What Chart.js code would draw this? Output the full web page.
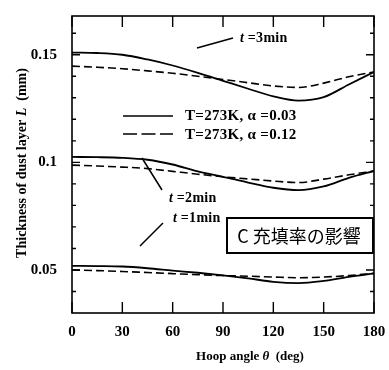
<!DOCTYPE html>
<html>
<head>
<meta charset="utf-8">
<script src="https://cdn.jsdelivr.net/npm/chart.js@4/dist/chart.umd.min.js"></script>
<style>
  html, body { margin: 0; padding: 0; background: #fff; }
  #wrap { width: 389px; height: 370px; position: relative; }
</style>
</head>
<body>
<div id="wrap"><canvas id="myChart" width="389" height="370"></canvas></div>
<script>
// hoop angle (deg) and dust layer thickness (mm)
const angles = [0, 15, 30, 45, 60, 75, 90, 105, 120, 135, 150, 165, 180];
const solid3 = [0.151, 0.1508, 0.150, 0.1478, 0.1450, 0.1416, 0.1379, 0.1342, 0.1307, 0.1287, 0.1303, 0.1362, 0.142];
const dashed3 = [0.1447, 0.1442, 0.1435, 0.1425, 0.1414, 0.1400, 0.1385, 0.1370, 0.1355, 0.1348, 0.1368, 0.1398, 0.142];
const solid2 = [0.1025, 0.1024, 0.1021, 0.1012, 0.0990, 0.0958, 0.0933, 0.0906, 0.0882, 0.0871, 0.0888, 0.0928, 0.096];
const dashed2 = [0.0987, 0.0983, 0.0978, 0.0971, 0.0958, 0.0945, 0.0933, 0.0923, 0.0913, 0.0906, 0.0922, 0.0942, 0.096];
const solid1 = [0.0519, 0.0518, 0.0516, 0.0508, 0.0497, 0.0487, 0.0475, 0.0461, 0.0445, 0.0439, 0.0449, 0.0468, 0.0484];
const dashed1 = [0.0500, 0.0497, 0.0493, 0.0488, 0.0483, 0.0478, 0.0474, 0.0471, 0.0467, 0.0464, 0.0467, 0.0474, 0.0484];

const xTicks = [0, 30, 60, 90, 120, 150, 180];
const yTicks = [0.05, 0.1, 0.15];
const yTickLabels = ['0.05', '0.1', '0.15'];
const yMinorTicks = [0.04, 0.06, 0.07, 0.08, 0.09, 0.11, 0.12, 0.13, 0.14, 0.16];

const serif = '"Liberation Serif", "DejaVu Serif", serif';
const DASH = [8, 4];

function line(values, dashed) {
    return {
        data: angles.map((a, i) => ({ x: a, y: values[i] })),
        borderColor: '#000',
        borderWidth: dashed ? 1.6 : 1.8,
        borderDash: dashed ? DASH : [],
        pointRadius: 0,
        fill: false,
        cubicInterpolationMode: 'monotone',
    };
}

// draw a run of [text, italic] pieces centred on (x, y)
function pieces(ctx, parts, size, x, y) {
    const fonts = parts.map(p => (p[1] ? 'italic ' : '') + 'bold ' + size + 'px ' + serif);
    const widths = parts.map((p, i) => { ctx.font = fonts[i]; return ctx.measureText(p[0]).width; });
    let cx = x - widths.reduce((s, w) => s + w, 0) / 2;
    ctx.textAlign = 'left';
    parts.forEach((p, i) => { ctx.font = fonts[i]; ctx.fillText(p[0], cx, y); cx += widths[i]; });
}

const decor = {
    id: 'decor',
    afterDraw(chart) {
        const ctx = chart.ctx;
        const a = chart.chartArea;
        const xs = chart.scales.x, ys = chart.scales.y;
        ctx.save();
        ctx.strokeStyle = '#000';
        ctx.fillStyle = '#000';

        // frame
        ctx.lineWidth = 1.6;
        ctx.strokeRect(a.left, a.top, a.right - a.left, a.bottom - a.top);

        // x ticks, inward on top and bottom
        ctx.lineWidth = 1.4;
        xTicks.forEach(v => {
            const px = xs.getPixelForValue(v);
            ctx.beginPath();
            ctx.moveTo(px, a.bottom); ctx.lineTo(px, a.bottom - 11);
            ctx.moveTo(px, a.top); ctx.lineTo(px, a.top + 11);
            ctx.stroke();
        });
        // y ticks, inward on left and right
        yTicks.forEach(v => {
            const py = ys.getPixelForValue(v);
            ctx.beginPath();
            ctx.moveTo(a.left, py); ctx.lineTo(a.left + 8, py);
            ctx.moveTo(a.right, py); ctx.lineTo(a.right - 8, py);
            ctx.stroke();
        });
        yMinorTicks.forEach(v => {
            const py = ys.getPixelForValue(v);
            ctx.beginPath();
            ctx.moveTo(a.left, py); ctx.lineTo(a.left + 4, py);
            ctx.moveTo(a.right, py); ctx.lineTo(a.right - 4, py);
            ctx.stroke();
        });

        // legend
        ctx.font = 'bold 15px ' + serif;
        ctx.letterSpacing = '0.3px';
        ctx.textBaseline = 'middle';
        ctx.textAlign = 'left';
        ctx.lineWidth = 1.6;
        ctx.beginPath(); ctx.moveTo(123, 116); ctx.lineTo(173, 116); ctx.stroke();
        ctx.setLineDash([14, 4.5]);
        ctx.beginPath(); ctx.moveTo(123, 134); ctx.lineTo(173, 134); ctx.stroke();
        ctx.setLineDash([]);
        ctx.fillText('T=273K, \u03b1 =0.03', 185, 116);
        ctx.fillText('T=273K, \u03b1 =0.12', 185, 135);

        // time labels with pointer lines
        ctx.lineWidth = 1.5;
        ctx.beginPath();
        ctx.moveTo(197, 48); ctx.lineTo(233, 38);
        ctx.moveTo(142, 158); ctx.lineTo(162, 190);
        ctx.moveTo(140, 246); ctx.lineTo(163, 223);
        ctx.stroke();
        ctx.font = 'italic bold 14px ' + serif;
        ctx.fillText('t', 240, 38);
        ctx.fillText('t', 169, 198);
        ctx.fillText('t', 173, 218);
        ctx.font = 'bold 14px ' + serif;
        ctx.fillText(' =3min', 244, 38);
        ctx.fillText(' =2min', 173, 198);
        ctx.fillText(' =1min', 177, 218);
        ctx.letterSpacing = '0px';

        // boxed caption
        ctx.fillStyle = '#fff';
        ctx.fillRect(227, 218, 146, 35);
        ctx.fillStyle = '#000';
        ctx.lineWidth = 2;
        ctx.strokeRect(227, 218, 146, 35);
        ctx.font = '18px "Noto Sans CJK JP", "Noto Sans", sans-serif';
        ctx.textAlign = 'center';
        ctx.fillText('C 充填率の影響', 299, 236);

        // axis titles
        pieces(ctx, [['Hoop angle ', false], ['\u03b8', true], ['  (deg)', false]], 13, 250, 357);
        ctx.translate(22, 163);
        ctx.rotate(-Math.PI / 2);
        pieces(ctx, [['Thickness of dust layer ', false], ['L', true], ['  (mm)', false]], 14, 0, 0);
        ctx.restore();
    }
};

const config = {
    type: 'line',
    data: {
        datasets: [
            line(solid3, false), line(dashed3, true),
            line(solid2, false), line(dashed2, true),
            line(solid1, false), line(dashed1, true),
        ],
    },
    options: {
        responsive: false,
        animation: false,
        layout: { padding: { left: 0, right: 15, top: 12, bottom: 0 } },
        plugins: { legend: { display: false }, tooltip: { enabled: false } },
        scales: {
            x: {
                type: 'linear',
                min: 0,
                max: 180,
                grid: { display: false },
                border: { display: false },
                afterBuildTicks: (s) => { s.ticks = xTicks.map(v => ({ value: v })); },
                afterFit: (s) => { s.height = 57; },
                ticks: {
                    color: '#000',
                    padding: 2,
                    maxRotation: 0,
                    font: { family: serif, size: 15, weight: 'bold' },
                    callback: (v) => String(v),
                },
            },
            y: {
                min: 0.03,
                max: 0.168,
                grid: { display: false },
                border: { display: false },
                afterBuildTicks: (s) => { s.ticks = yTicks.map(v => ({ value: v })); },
                afterFit: (s) => { s.width = 72; },
                ticks: {
                    color: '#000',
                    padding: 7,
                    font: { family: serif, size: 15, weight: 'bold' },
                    callback: (v) => {
                        const i = yTicks.findIndex(t => Math.abs(t - v) < 1e-6);
                        return i >= 0 ? yTickLabels[i] : '';
                    },
                },
            },
        },
    },
    plugins: [decor],
};

const ctx = document.getElementById('myChart').getContext('2d');
new Chart(ctx, config);
</script>
</body>
</html>
